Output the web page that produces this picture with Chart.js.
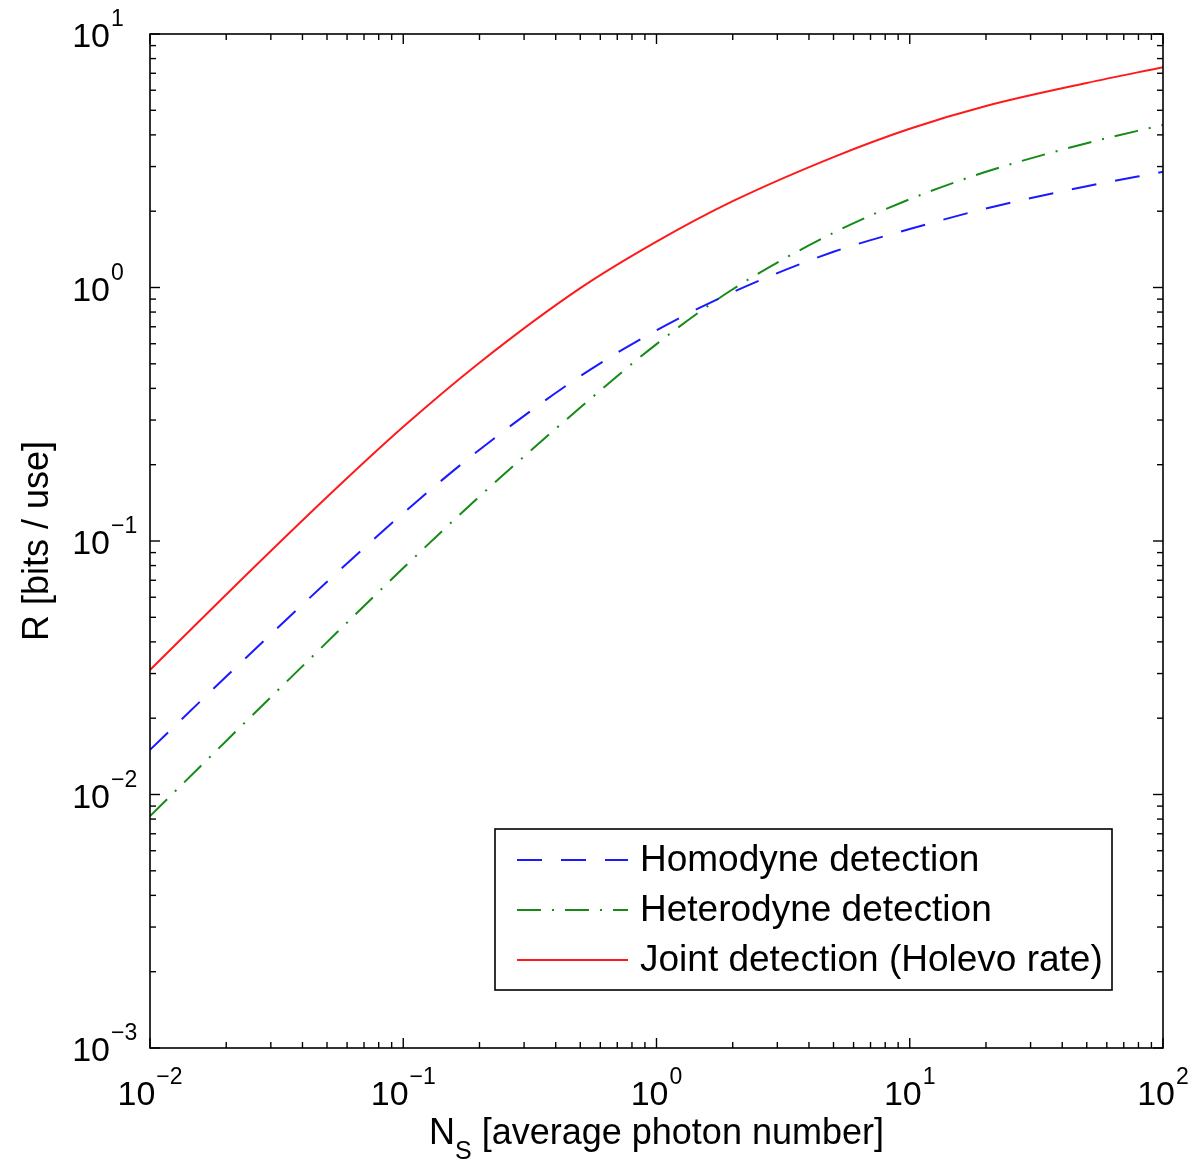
<!DOCTYPE html>
<html>
<head>
<meta charset="utf-8">
<title>Rate vs photon number</title>
<script src="https://cdn.jsdelivr.net/npm/chart.js@4.4.1/dist/chart.umd.min.js"></script>
<style>
  html, body { margin: 0; padding: 0; background: #fff; }
  #wrap { width: 1194px; height: 1166px; }
</style>
</head>
<body>
<div id="wrap"><canvas id="rateChart" width="1194" height="1166"></canvas></div>
<script>
// ---------------------------------------------------------------------------
//  Data
// ---------------------------------------------------------------------------

const photonNumber   = [0.01, 0.02, 0.05, 0.1, 0.2, 0.5, 1, 2, 5, 10, 20, 50, 100];
const homodyneRate   = [0.0150, 0.0292, 0.069, 0.1288, 0.229, 0.447, 0.678, 0.958, 1.383, 1.70, 2.05, 2.51, 2.86];
const heterodyneRate = [0.00822, 0.01627, 0.0399, 0.0782, 0.150, 0.336, 0.598, 0.984, 1.644, 2.23, 2.86, 3.71, 4.38];
const holevoRate     = [0.031, 0.0615, 0.149, 0.282, 0.505, 0.994, 1.517, 2.19, 3.27, 4.23, 5.20, 6.41, 7.40];

const seriesLabels = ['Homodyne detection', 'Heterodyne detection', 'Joint detection (Holevo rate)'];
const xDecades = [-2, -1, 0, 1, 2];
const yDecades = [-3, -2, -1, 0, 1];

const FONT = '"Liberation Sans", Arial, Helvetica, sans-serif';

const toPoints = ys => photonNumber.map((x, i) => ({ x, y: ys[i] }));

// ---------------------------------------------------------------------------
//  Axes box, inward ticks, labels and legend (drawn on the canvas)
// ---------------------------------------------------------------------------

function superLabel(ctx, exp, x, y, align) {
  const base = '10';
  const sup = exp < 0 ? '\u2212' + Math.abs(exp) : String(exp);
  ctx.font = '34px ' + FONT;
  const wb = ctx.measureText(base).width;
  ctx.font = '23px ' + FONT;
  const ws = ctx.measureText(sup).width;
  let bx;
  if (align === 'center') bx = x - (wb + ws + 1) / 2;
  else bx = x - wb;                       // base right-aligned at x
  ctx.textAlign = 'left';
  ctx.textBaseline = 'alphabetic';
  ctx.font = '34px ' + FONT;
  ctx.fillText(base, bx, y);
  ctx.font = '23px ' + FONT;
  ctx.fillText(sup, bx + wb + 1, y - 21);
}

const framePlugin = {
  id: 'frame',
  afterDatasetsDraw(chart) {
    const { ctx, chartArea: a, scales: { x, y } } = chart;
    ctx.save();
    ctx.strokeStyle = '#000';
    ctx.fillStyle = '#000';
    ctx.lineWidth = 1.6;
    ctx.strokeRect(a.left, a.top, a.right - a.left, a.bottom - a.top);

    // tick marks
    const tick = (x0, y0, x1, y1) => { ctx.beginPath(); ctx.moveTo(x0, y0); ctx.lineTo(x1, y1); ctx.stroke(); };
    ctx.lineWidth = 1.4;
    xDecades.forEach(d => {
      for (let k = 1; k <= 9; k++) {
        if (k > 1 && d === xDecades[xDecades.length - 1]) break;
        const px = x.getPixelForValue(k * Math.pow(10, d));
        const len = k === 1 ? 10 : 6;
        tick(px, a.bottom, px, a.bottom - len);
        tick(px, a.top, px, a.top + len);
      }
    });
    yDecades.forEach(d => {
      for (let k = 1; k <= 9; k++) {
        if (k > 1 && d === yDecades[yDecades.length - 1]) break;
        const py = y.getPixelForValue(k * Math.pow(10, d));
        const len = k === 1 ? 10 : 6;
        tick(a.left, py, a.left + len, py);
        tick(a.right, py, a.right - len, py);
      }
    });

    // decade labels
    xDecades.forEach(d => superLabel(ctx, d, x.getPixelForValue(Math.pow(10, d)), a.bottom + 57, 'center'));
    yDecades.forEach(d => superLabel(ctx, d, 110, y.getPixelForValue(Math.pow(10, d)) + 13, 'right'));

    // axis titles
    ctx.font = '36px ' + FONT;
    const rest = ' [average photon number]';
    const wN = ctx.measureText('N').width;
    const wR = ctx.measureText(rest).width;
    ctx.font = '25px ' + FONT;
    const wS = ctx.measureText('S').width;
    let tx = (a.left + a.right) / 2 - (wN + wS + wR) / 2;
    ctx.textAlign = 'left';
    ctx.font = '36px ' + FONT;
    ctx.fillText('N', tx, 1144);
    ctx.font = '25px ' + FONT;
    ctx.fillText('S', tx + wN, 1159);
    ctx.font = '36px ' + FONT;
    ctx.fillText(rest, tx + wN + wS, 1144);

    ctx.save();
    ctx.translate(48, (a.top + a.bottom) / 2);
    ctx.rotate(-Math.PI / 2);
    ctx.textAlign = 'center';
    ctx.fillText('R [bits / use]', 0, 0);
    ctx.restore();

    // legend
    const lg = { left: 495, top: 829, right: 1112, bottom: 990 };
    ctx.fillStyle = '#fff';
    ctx.fillRect(lg.left, lg.top, lg.right - lg.left, lg.bottom - lg.top);
    ctx.lineWidth = 1.6;
    ctx.strokeRect(lg.left, lg.top, lg.right - lg.left, lg.bottom - lg.top);
    chart.data.datasets.forEach((ds, i) => {
      const ry = 860 + i * 50;
      ctx.strokeStyle = ds.borderColor;
      ctx.lineWidth = ds.borderWidth;
      ctx.setLineDash(ds.borderDash || []);
      ctx.beginPath();
      ctx.moveTo(517, ry);
      ctx.lineTo(628, ry);
      ctx.stroke();
      ctx.setLineDash([]);
      ctx.fillStyle = '#000';
      ctx.font = '37px ' + FONT;
      ctx.textAlign = 'left';
      ctx.textBaseline = 'middle';
      ctx.fillText(ds.label, 640, ry + 1);
    });
    ctx.restore();
  }
};

// ---------------------------------------------------------------------------
//  Chart
// ---------------------------------------------------------------------------

new Chart(document.getElementById('rateChart'), {
  type: 'line',
  data: {
    datasets: [
      { label: seriesLabels[0], data: toPoints(homodyneRate),
        borderColor: '#1a1aff', borderWidth: 2, borderDash: [25, 19] },
      { label: seriesLabels[1], data: toPoints(heterodyneRate),
        borderColor: '#158a15', borderWidth: 2, borderDash: [24, 11, 2, 11] },
      { label: seriesLabels[2], data: toPoints(holevoRate),
        borderColor: '#ff1a1a', borderWidth: 2 },
    ],
  },
  options: {
    responsive: false,
    animation: false,
    devicePixelRatio: 1,
    layout: { padding: { left: 150, top: 34, right: 31, bottom: 118 } },
    elements: { point: { radius: 0 }, line: { cubicInterpolationMode: 'monotone', fill: false } },
    plugins: { legend: { display: false }, tooltip: { enabled: false } },
    scales: {
      x: { type: 'logarithmic', min: 0.01, max: 100, display: false },
      y: { type: 'logarithmic', min: 0.001, max: 10, display: false },
    },
  },
  plugins: [framePlugin],
});
</script>
</body>
</html>
